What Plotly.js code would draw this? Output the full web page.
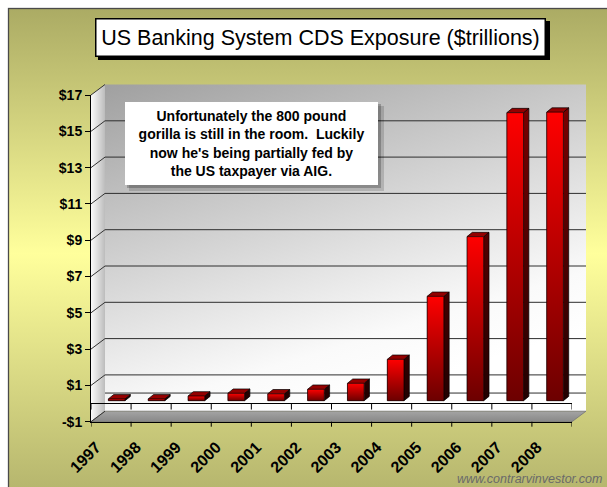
<!DOCTYPE html>
<html><head><meta charset="utf-8">
<script src="https://cdn.plot.ly/plotly-3.0.1.min.js"></script>
<style>html,body{margin:0;padding:0;background:#fff;overflow:hidden}#chart{width:607px;height:487px}</style>
</head><body><div id="chart"></div>
<script>
// ---------------- data ----------------
const years = ['1997','1998','1999','2000','2001','2002','2003','2004','2005','2006','2007','2008'];
const exposure = [0.1, 0.1, 0.26, 0.41, 0.38, 0.63, 0.96, 2.28, 5.75, 9.04, 15.87, 15.9];
const yTickVals = [-1, 1, 3, 5, 7, 9, 11, 13, 15, 17];
const yTickText = ['-$1','$1','$3','$5','$7','$9','$11','$13','$15','$17'];
const titleText = 'US Banking System CDS Exposure ($trillions)';
const noteLines = ['Unfortunately the 800 pound', 'gorilla is still in the room.\u00a0 Luckily', "now he's being partially fed by", 'the US taxpayer via AIG.'];
const watermark = 'www.contrarvinvestor.com';

// ---------------- geometry (pixels) ----------------
const W = 607, H = 487;
const px = v => v / W;
const py = v => 1 - v / H;
const FRONT = {l: 91, r: 572, top: 95, bot: 421.7};
const DEPTH = {dx: 14, dy: -10.5};
const BACK = {l: FRONT.l + DEPTH.dx, r: FRONT.r + DEPTH.dx, top: FRONT.top + DEPTH.dy, bot: FRONT.bot + DEPTH.dy};
const BAR = {zero: 400.7, unit: 18.15, c0: 116.7, step: 39.85, w: 16.7, sdx: 5.3, sdy: 4.3};
const unitF = (FRONT.bot - FRONT.top) / 18;
const yFront = t => FRONT.bot - (t + 1) * unitF;
const FONT = 'Liberation Sans, Arial, Helvetica, sans-serif';
const LABEL_SHIFT = 0.37;

// ---------------- background svg ----------------
const bgSvg = `<svg xmlns='http://www.w3.org/2000/svg' width='${W}' height='${H}' viewBox='0 0 ${W} ${H}'>
<defs>
<linearGradient id='o' x1='0' y1='0' x2='0' y2='1'><stop offset='0' stop-color='#abab64'/><stop offset='0.5' stop-color='#ffff9c'/><stop offset='1' stop-color='#b3b36c'/></linearGradient>
<linearGradient id='w' x1='0' y1='0' x2='0.45' y2='1'><stop offset='0' stop-color='#a0a0a0'/><stop offset='0.85' stop-color='#fafafa'/><stop offset='1' stop-color='#ffffff'/></linearGradient>
<linearGradient id='s' x1='0' y1='0' x2='1' y2='0'><stop offset='0' stop-color='#fbfbfb'/><stop offset='1' stop-color='#bcbcbc'/></linearGradient>
<linearGradient id='f' x1='0' y1='0' x2='0' y2='1'><stop offset='0' stop-color='#a4a4a4'/><stop offset='1' stop-color='#888888'/></linearGradient>
</defs>
<rect width='${W}' height='${H}' fill='#ffffff'/>
<rect x='8.5' y='8.5' width='700' height='490' fill='url(#o)' stroke='#4a4a4a' stroke-width='1.3'/>
<rect x='${BACK.l}' y='${BACK.top}' width='${BACK.r - BACK.l}' height='${BACK.bot - BACK.top}' fill='url(#w)'/>
<polygon points='${FRONT.l},${FRONT.top} ${BACK.l},${BACK.top} ${BACK.l},${BACK.bot} ${FRONT.l},${FRONT.bot}' fill='url(#s)'/>
<polygon points='${FRONT.l},${FRONT.bot} ${BACK.l},${BACK.bot} ${BACK.r},${BACK.bot} ${FRONT.r},${FRONT.bot}' fill='url(#f)' stroke='#777' stroke-width='0.8'/>
</svg>`;

// ---------------- traces ----------------
const idx = years.map((_, i) => i);
const wU = BAR.w / BAR.step, hw = wU / 2;
const sdxU = BAR.sdx / BAR.step, sdyU = BAR.sdy / BAR.unit;

const traces = [];
traces.push({
  type: 'bar', x: idx, y: exposure, width: wU, xaxis: 'x2', yaxis: 'y2',
  marker: {color: '#c40000', line: {width: 0}}, hoverinfo: 'skip', name: 'CDS'
});
const sideX = [], sideY = [], topX = [], topY = [];
idx.forEach((c, i) => {
  const v = exposure[i];
  sideX.push(c + hw, c + hw + sdxU, c + hw + sdxU, c + hw, null);
  sideY.push(0, sdyU, v + sdyU, v, null);
  topX.push(c - hw, c - hw + sdxU, c + hw + sdxU, c + hw, null);
  topY.push(v, v + sdyU, v + sdyU, v, null);
});
traces.push({type: 'scatter', mode: 'lines', x: sideX, y: sideY, xaxis: 'x2', yaxis: 'y2', fill: 'toself',
  fillcolor: '#5a0000', fillgradient: {type: 'vertical', colorscale: [[0, '#220000'], [1, '#7a0000']]},
  line: {color: '#000', width: 0.7}, hoverinfo: 'skip', showlegend: false});
traces.push({type: 'scatter', mode: 'lines', x: topX, y: topY, xaxis: 'x2', yaxis: 'y2', fill: 'toself',
  fillcolor: '#940000', line: {color: '#000', width: 0.7}, hoverinfo: 'skip', showlegend: false});
idx.forEach((c, i) => {
  const v = exposure[i];
  traces.push({type: 'scatter', mode: 'lines', x: [c - hw, c + hw, c + hw, c - hw, c - hw], y: [0, 0, v, v, 0],
    xaxis: 'x2', yaxis: 'y2', fill: 'toself', fillcolor: '#c40000',
    fillgradient: {type: 'vertical', colorscale: [[0, '#6c0000'], [1, '#ff0000']]},
    line: {color: '#000', width: 0.7}, hoverinfo: 'skip', showlegend: false});
});

// ---------------- shapes ----------------
const shapes = [];
// back-wall gridlines (tick values projected onto the back wall)
[0].concat(yTickVals.slice(1, -1)).forEach(t => {
  const yy = py(yFront(t) + DEPTH.dy);
  shapes.push({type: 'line', xref: 'paper', yref: 'paper', x0: px(BACK.l), x1: px(BACK.r), y0: yy, y1: yy,
    line: {color: '#2e2e2e', width: 1}, layer: 'below'});
});
// diagonal tick connectors on side wall
yTickVals.forEach(t => {
  shapes.push({type: 'line', xref: 'paper', yref: 'paper', x0: px(FRONT.l), y0: py(yFront(t)),
    x1: px(BACK.l), y1: py(yFront(t) + DEPTH.dy), line: {color: '#333', width: 1}, layer: 'below'});
});
// category boundary ticks on the zero line and below the floor edge
for (let k = 0; k <= years.length; k++) {
  shapes.push({type: 'line', xref: 'x', yref: 'paper', x0: k - 0.5, x1: k - 0.5,
    y0: py(yFront(0)), y1: py(yFront(0) + 6), line: {color: '#000', width: 1}});
  shapes.push({type: 'line', xref: 'x', yref: 'paper', x0: k - 0.5, x1: k - 0.5,
    y0: py(FRONT.bot), y1: py(FRONT.bot + 5), line: {color: '#000', width: 1}});
}
// title shadow
shapes.push({type: 'rect', xref: 'paper', yref: 'paper', x0: px(98), x1: px(550), y0: py(21), y1: py(60),
  fillcolor: '#000', line: {width: 0}});
// note shadow
shapes.push({type: 'rect', xref: 'paper', yref: 'paper', x0: px(129), x1: px(384), y0: py(106), y1: py(191),
  fillcolor: 'rgba(0,0,0,0.15)', line: {width: 0}});
shapes.push({type: 'rect', xref: 'paper', yref: 'paper', x0: px(127), x1: px(381), y0: py(104), y1: py(188),
  fillcolor: 'rgba(0,0,0,0.22)', line: {width: 0}});

// ---------------- layout ----------------
const layout = {
  width: W, height: H, autosize: false,
  margin: {l: 0, r: 0, t: 0, b: 0, pad: 0},
  paper_bgcolor: '#ffffff', plot_bgcolor: 'rgba(0,0,0,0)',
  showlegend: false, dragmode: false,
  font: {family: FONT, color: '#000'},
  images: [{source: 'data:image/svg+xml;charset=utf-8,' + encodeURIComponent(bgSvg),
    xref: 'paper', yref: 'paper', x: 0, y: 1, sizex: 1, sizey: 1, xanchor: 'left', yanchor: 'top',
    sizing: 'stretch', layer: 'below'}],
  // front axes
  xaxis: {domain: [px(FRONT.l), px(FRONT.r)], range: [-0.5, years.length - 0.5], anchor: 'y',
    showline: true, linecolor: '#000', linewidth: 1, ticks: '', ticklabelstandoff: 9,
    tickvals: idx.map(i => i - LABEL_SHIFT), ticktext: years, tickangle: -45,
    tickfont: {family: FONT, size: 16, weight: 'bold', color: '#000'},
    showgrid: false, zeroline: false, fixedrange: true},
  yaxis: {domain: [py(FRONT.bot), py(FRONT.top)], range: [-1, 17], anchor: 'x',
    showline: true, linecolor: '#000', linewidth: 1, ticks: 'outside', ticklen: 5, tickcolor: '#000',
    tickvals: yTickVals, ticktext: yTickText, tickfont: {family: FONT, size: 14, weight: 'bold', color: '#000'},
    showgrid: false, zeroline: true, zerolinecolor: '#000', zerolinewidth: 1, fixedrange: true},
  // bars
  xaxis2: {domain: [0, 1], range: [-BAR.c0 / BAR.step, (W - BAR.c0) / BAR.step], anchor: 'y2', visible: false, fixedrange: true},
  yaxis2: {domain: [py(BAR.zero + BAR.unit), py(BAR.zero - 17 * BAR.unit)], range: [-1, 17], anchor: 'x2', visible: false, fixedrange: true},
  shapes: shapes,
  annotations: [
    {text: titleText, xref: 'paper', yref: 'paper', x: px(321), y: py(37.5), xanchor: 'center', yanchor: 'middle',
      showarrow: false, font: {family: FONT, size: 21.5, color: '#000'}, bgcolor: '#fff', bordercolor: '#000',
      borderwidth: 1.5, borderpad: 0, width: 448, height: 36},
    {text: noteLines.join('<br>'), xref: 'paper', yref: 'paper', x: px(251.5), y: py(143.5), xanchor: 'center', yanchor: 'middle',
      showarrow: false, font: {family: FONT, size: 14, weight: 'bold', color: '#000'}, bgcolor: '#fff',
      borderwidth: 0, borderpad: 0, width: 253, height: 83},
    {text: watermark, xref: 'paper', yref: 'paper', x: px(604), y: py(479), xanchor: 'right', yanchor: 'middle',
      showarrow: false, font: {family: FONT, size: 12.5, style: 'italic', color: '#6a6a6a'}}
  ]
};

Plotly.newPlot('chart', traces, layout, {staticPlot: true, displayModeBar: false});
</script>
</body></html>
